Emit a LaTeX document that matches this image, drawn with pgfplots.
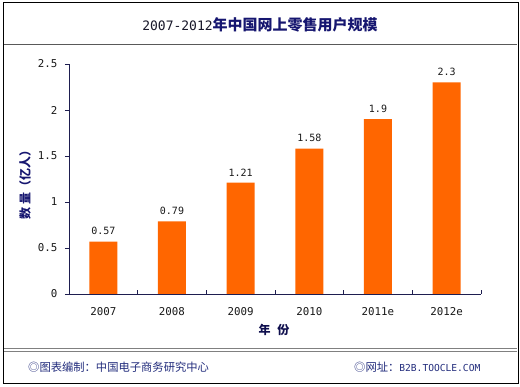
\documentclass[border=0pt]{standalone}
\usepackage{pgfplots}
\pgfplotsset{compat=1.18}
\usepackage{fontspec}
\newfontfamily\cjk{Noto Sans CJK SC}
\newfontfamily\mono{DejaVu Sans Mono}
\definecolor{barorange}{RGB}{255,102,0}
\definecolor{navy}{RGB}{22,22,112}
\definecolor{axisnavy}{RGB}{30,30,80}
\definecolor{foot}{RGB}{35,45,125}
\definecolor{txt}{RGB}{25,25,25}
\begin{document}
\begin{tikzpicture}
\path[use as bounding box] (0pt,0pt) rectangle (520pt,387pt);
\fill[white] (0pt,0pt) rectangle (520pt,387pt);
\draw[black, line width=1pt] (3pt,3pt) rectangle (518pt,384pt);
\draw[black!65, line width=1pt] (4pt,342pt) -- (517pt,342pt);
\draw[black!50, line width=1.4pt] (4pt,38.3pt) -- (517pt,38.3pt);
\draw[black!50, line width=1.4pt] (4pt,35.3pt) -- (517pt,35.3pt);
\node[anchor=center, inner sep=0pt] at (260pt,362pt)
  {{\color{txt!80!navy}\mono\fontsize{13}{15}\selectfont 2007-2012}{\color{navy}\cjk\bfseries\fontsize{15}{17}\selectfont 年中国网上零售用户规模}};
\node[rotate=90, inner sep=0pt, text=navy, font=\cjk\bfseries\fontsize{12}{14}\selectfont] at (25pt,205pt) {数\hspace{3pt}量（亿人）};
\node[inner sep=0pt, text=navy!70!black, font=\cjk\bfseries\fontsize{12}{14}\selectfont] at (274pt,57pt) {年\hspace{7pt}份};
\node[anchor=west, inner sep=0pt, text=foot, font=\cjk\fontsize{11.3}{13}\selectfont] at (28pt,20pt) {◎图表编制：中国电子商务研究中心};
\node[anchor=west, inner sep=0pt, text=foot] at (354pt,20pt) {{\cjk\fontsize{11.3}{13}\selectfont ◎网址：}{\mono\fontsize{9.6}{12}\selectfont B2B.TOOCLE.COM}};
\begin{axis}[
  at={(69pt,93pt)}, anchor=south west,
  scale only axis, width=412pt, height=230pt,
  xmin=-0.5, xmax=5.5, ymin=0, ymax=2.5,
  axis lines*=left,
  axis line style={axisnavy, line width=0.9pt},
  every tick/.style={axisnavy, line width=0.8pt},
  /pgf/number format/assume math mode=true,
  xtick={-0.5,0.5,1.5,2.5,3.5,4.5,5.5},
  xticklabels={},
  xtick align=inside,
  major tick length=4pt,
  extra x ticks={0,1,2,3,4,5},
  extra x tick labels={2007,2008,2009,2010,2011e,2012e},
  extra x tick style={major tick length=0pt, xticklabel style={font=\mono\fontsize{10.8}{12}\selectfont, text=txt, yshift=-10pt}},
  ytick={0,0.5,1,1.5,2,2.5},
  ytick align=outside,
  yticklabel style={font=\mono\fontsize{10.8}{12}\selectfont, text=txt, xshift=-4pt},
  nodes near coords,
  every node near coord/.append style={font=\mono\fontsize{10}{12}\selectfont, text=txt, yshift=3pt},
]
\addplot[ybar, bar width=28pt, fill=barorange, draw=none] coordinates {
  (0,0.57) (1,0.79) (2,1.21) (3,1.58) (4,1.9) (5,2.3)};
\end{axis}
\end{tikzpicture}
\end{document}
